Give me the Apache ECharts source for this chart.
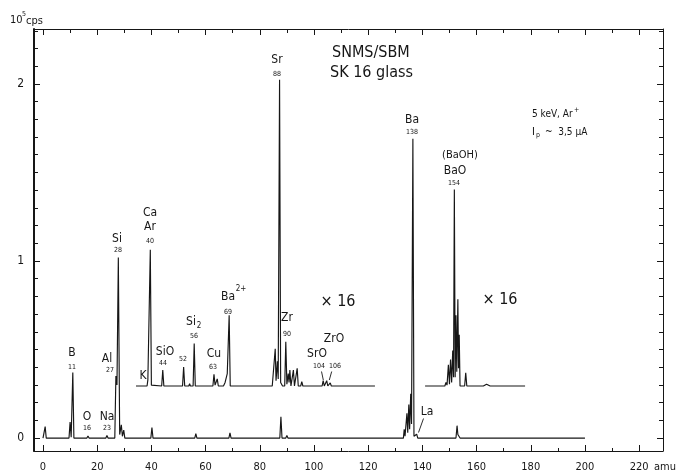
<!DOCTYPE html>
<html>
<head>
<meta charset="utf-8">
<script src="https://cdn.jsdelivr.net/npm/echarts@6/dist/echarts.min.js"></script>
<style>html,body{margin:0;padding:0;background:#fff;}#c{width:682px;height:474px;}</style>
</head>
<body>
<div id="c"></div>
<script>
// ---- tick labels / tick positions ----
const xMajorTicks = [0, 20, 40, 60, 80, 100, 120, 140, 160, 180, 200, 220];
const xMinorTicks = [10, 30, 50, 70, 90, 110, 130, 150, 170, 190, 210];
const yLabelTicks = [0, 1, 2];
const yMinorTicks = [0.1, 0.2, 0.3, 0.4, 0.5, 0.6, 0.7, 0.8, 0.9, 1.1, 1.2, 1.3, 1.4, 1.5, 1.6, 1.7, 1.8, 1.9, 2.1, 2.2, 2.3];

// ---- main spectrum (x1), [amu, 10^5 cps] ----
const mainSpectrum = [
  [0, 0], [0.4, 0], [0.8, 0.065], [1.2, 0],
  [9.6, 0], [10.0, 0.09], [10.4, 0.005], [11.0, 0.37], [11.4, 0],
  [16.2, 0], [16.6, 0.012], [17.0, 0],
  [23.2, 0], [23.6, 0.015], [24.0, 0],
  [26.5, 0], [26.9, 0.35], [27.3, 0.3], [27.8, 1.02], [28.3, 0.02], [28.9, 0.075], [29.3, 0.01], [29.8, 0.045], [30.2, 0],
  [39.8, 0], [40.2, 0.06], [40.6, 0],
  [56.0, 0], [56.4, 0.025], [56.8, 0],
  [68.6, 0], [69.0, 0.03], [69.4, 0],
  [87.4, 0], [87.8, 0.12], [88.2, 0], [89.6, 0], [90.0, 0.015], [90.4, 0],
  [133.0, 0], [133.3, 0.05], [133.6, 0.01], [134.3, 0.14], [134.6, 0.03], [135.0, 0.19], [135.3, 0.05], [135.7, 0.25], [136.0, 0.08], [136.5, 1.69], [136.9, 0.01], [137.9, 0.022], [138.3, 0],
  [152.4, 0], [152.8, 0.07], [153.1, 0.02], [153.5, 0.03], [153.9, 0],
  [200, 0]
];

// ---- x16 inset spectra (offset baseline), heights above inset baseline ----
const insetBaseline = 0.294;
const inset1Heights = [
  [34.3, 0], [38.4, 0], [38.7, 0.035], [39.1, 0.03], [39.6, 0.77], [40.0, 0.005],
  [43.8, 0], [44.2, 0.09], [44.6, 0],
  [51.5, 0], [51.9, 0.107], [52.3, 0], [53.8, 0], [54.1, 0.013], [54.4, 0], [55.4, 0], [55.8, 0.24], [56.2, 0],
  [62.7, 0], [63.1, 0.066], [63.5, 0.005], [64.3, 0.04], [64.7, 0],
  [66.6, 0], [67.2, 0.02], [68.0, 0.07], [68.7, 0.40], [69.1, 0],
  [84.6, 0], [85.0, 0.01], [85.7, 0.21], [86.0, 0.03], [86.5, 0.14], [86.8, 0.04], [87.3, 1.73], [87.7, 0.02], [88.0, 0.03], [88.4, 0],
  [89.2, 0], [89.6, 0.25], [90.0, 0.01], [90.5, 0.07], [90.8, 0.02], [91.1, 0.09], [91.5, 0],
  [92.0, 0], [92.4, 0.09], [92.8, 0], [93.4, 0], [93.8, 0.10], [94.2, 0], [95.1, 0], [95.5, 0.025], [95.9, 0],
  [103.0, 0], [103.4, 0.03], [103.8, 0], [104.3, 0], [104.7, 0.03], [105.1, 0], [105.6, 0], [106.0, 0.018], [106.4, 0],
  [108.5, 0], [108.9, 0.01], [109.3, 0],
  [122.5, 0]
];
const inset2Heights = [
  [141.0, 0], [148.3, 0], [148.7, 0.02], [149.1, 0.005], [149.6, 0.12], [150.0, 0.01], [150.4, 0.15], [150.8, 0.02],
  [151.2, 0.20], [151.5, 0.05], [151.8, 1.11], [152.1, 0.05], [152.4, 0.40], [152.7, 0.08], [153.1, 0.49], [153.35, 0.1],
  [153.6, 0.29], [153.9, 0], [155.6, 0], [156.0, 0.075], [156.4, 0], [162.5, 0], [163.7, 0.01], [165.0, 0],
  [177.9, 0]
];

const FONT = "'DejaVu Sans Condensed', 'DejaVu Sans', sans-serif";
const INK = '#161616';
const X_MIN = -3.32, X_MAX = 228.8, Y_MIN = -0.073, Y_MAX = 2.31;

function shift(arr) { return arr.map(p => [p[0], p[1] + insetBaseline]); }

function xAx(pos, ticks, len, line, labels) {
  return {
    type: 'value', position: pos, min: X_MIN, max: X_MAX,
    axisLine: { show: line, onZero: false, lineStyle: { color: INK, width: 1 } },
    axisTick: { show: true, inside: true, length: len, customValues: ticks, lineStyle: { color: INK, width: 1 } },
    axisLabel: labels ? { show: true, customValues: xMajorTicks, margin: 11, fontSize: 11, color: INK, fontFamily: FONT } : { show: false },
    splitLine: { show: false }
  };
}
function yAx(pos, ticks, len, line, width, labels) {
  return {
    type: 'value', position: pos, min: Y_MIN, max: Y_MAX,
    axisLine: { show: line, onZero: false, lineStyle: { color: INK, width: width } },
    axisTick: { show: true, inside: true, length: len, customValues: ticks, lineStyle: { color: INK, width: 1 } },
    axisLabel: labels ? { show: true, customValues: yLabelTicks, margin: 10, fontSize: 12, color: INK, fontFamily: FONT } : { show: false },
    splitLine: { show: false }
  };
}

const lineStyle = { color: INK, width: 1.15, join: 'bevel' };
function spec(name, data) {
  return { name, type: 'line', data, xAxisIndex: 0, yAxisIndex: 0, showSymbol: false, symbol: 'none',
           lineStyle, silent: true, animation: false, z: 3 };
}

// annotations: [text, x, y, fontSize, align]
const notes = [
  ['10', 10, 20, 11, 'left'], ['5', 22, 14, 7, 'left'], ['cps', 26, 21, 11, 'left'],
  ['SNMS/SBM', 332, 53, 16, 'left'], ['SK 16 glass', 330, 73, 16, 'left'],
  ['5 keV, Ar', 532, 114, 10, 'left'], ['+', 574, 110, 7, 'left'],
  ['I', 532, 132, 11, 'left'], ['p', 536, 135, 7, 'left'], ['~  3,5 µA', 545, 132, 10, 'left'],
  ['× 16', 338, 302, 16, 'center'], ['× 16', 500, 300, 16, 'center'],
  ['B', 72, 353, 12, 'center'], ['11', 72, 367, 7, 'center'],
  ['O', 87, 417, 12, 'center'], ['16', 87, 428, 7, 'center'],
  ['Na', 107, 417, 12, 'center'], ['23', 107, 428, 7, 'center'],
  ['Al', 107, 359, 12, 'center'], ['27', 110, 370, 7, 'center'],
  ['Si', 117, 239, 12, 'center'], ['28', 118, 250, 7, 'center'],
  ['Ca', 150, 213, 12, 'center'], ['Ar', 150, 227, 12, 'center'], ['40', 150, 241, 7, 'center'],
  ['K', 143, 376, 12, 'center'],
  ['SiO', 165, 352, 12, 'center'], ['44', 163, 363, 7, 'center'],
  ['52', 183, 359, 7, 'center'],
  ['Si', 191, 322, 12, 'center'], ['2', 199, 326, 8, 'center'], ['56', 194, 336, 7, 'center'],
  ['Cu', 214, 354, 12, 'center'], ['63', 213, 367, 7, 'center'],
  ['Ba', 228, 297, 12, 'center'], ['2+', 241, 289, 8, 'center'], ['69', 228, 312, 7, 'center'],
  ['Sr', 277, 60, 12, 'center'], ['88', 277, 74, 7, 'center'],
  ['Zr', 287, 318, 12, 'center'], ['90', 287, 334, 7, 'center'],
  ['ZrO', 334, 339, 12, 'center'], ['SrO', 317, 354, 12, 'center'],
  ['104', 319, 366, 7, 'center'], ['106', 335, 366, 7, 'center'],
  ['Ba', 412, 120, 12, 'center'], ['138', 412, 132, 7, 'center'],
  ['(BaOH)', 460, 155, 11, 'center'], ['BaO', 455, 171, 12, 'center'], ['154', 454, 183, 7, 'center'],
  ['La', 427, 412, 12, 'center'],
  ['amu', 654, 467, 11, 'left']
];
// pointer strokes [x1, y1, x2, y2]
const pointers = [[423.5, 418.5, 418.5, 432.5], [321.5, 371.5, 323.3, 380], [331.7, 371.5, 329.3, 380]];

const graphic = notes.map(n => ({
  type: 'text', x: n[1], y: n[2], silent: true, z: 10,
  style: { text: n[0], fill: INK, font: n[3] + 'px ' + FONT, align: n[4], textAlign: n[4], verticalAlign: 'middle', textVerticalAlign: 'middle' }
})).concat(pointers.map(p => ({
  type: 'line', silent: true, z: 10, shape: { x1: p[0], y1: p[1], x2: p[2], y2: p[3] }, style: { stroke: INK, lineWidth: 0.9 }
})));

const chart = echarts.init(document.getElementById('c'), null, { renderer: 'canvas', width: 682, height: 474 });
chart.setOption({
  backgroundColor: '#fff',
  animation: false,
  textStyle: { fontFamily: FONT },
  grid: { left: 34, right: 19, top: 29, bottom: 23, containLabel: false },
  xAxis: [
    xAx('bottom', xMajorTicks, 6, true, true),
    xAx('bottom', xMinorTicks, 3, false, false),
    xAx('top', xMajorTicks, 6, true, false),
    xAx('top', xMinorTicks, 4, false, false)
  ],
  yAxis: [
    yAx('left', yLabelTicks, 6, true, 2, true),
    yAx('left', yMinorTicks, 4, false, 1, false),
    yAx('right', yLabelTicks, 6, true, 1, false),
    yAx('right', yMinorTicks, 4, false, 1, false)
  ],
  series: [
    spec('main', mainSpectrum),
    spec('inset1', shift(inset1Heights)),
    spec('inset2', shift(inset2Heights))
  ],
  graphic: graphic
});
</script>
</body>
</html>
